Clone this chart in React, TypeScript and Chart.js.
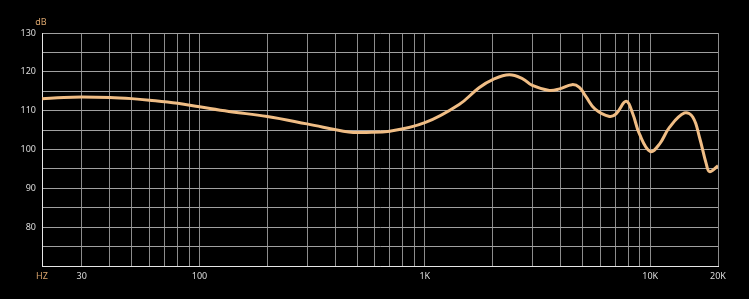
import React, { useEffect, useRef } from "react";
import { Chart, registerables } from "chart.js";

Chart.register(...registerables);

// Frequency response (Hz) and level (dB)
const freqs = [20, 25, 30, 40, 50, 60, 80, 100, 135, 200, 300, 460, 550, 700, 1000, 1420, 1740, 2000, 2370, 2720, 3000, 3570, 3960, 4500, 4850, 5190, 5700, 6600, 7060, 7820, 8370, 8960, 10000, 11000, 12180, 14200, 15470, 16560, 17740, 18350, 20000];
const levels = [113.1, 113.4, 113.5, 113.4, 113.1, 112.7, 111.9, 111.0, 109.8, 108.5, 106.6, 104.5, 104.4, 104.7, 106.9, 111.6, 115.9, 118.0, 119.25, 118.2, 116.5, 115.2, 115.6, 116.7, 116.0, 113.6, 110.4, 108.5, 109.2, 112.4, 109.2, 104.0, 99.5, 101.4, 105.7, 109.4, 108.3, 103.1, 96.3, 94.3, 95.8];

const xGridValues = [20, 30, 40, 50, 60, 70, 80, 90, 100, 200, 300, 400, 500, 600, 700, 800, 900, 1000, 2000, 3000, 4000, 5000, 6000, 7000, 8000, 9000, 10000, 20000];
const xLabelValues = [20, 30, 100, 1000, 10000, 20000];
const xLabelTexts = ["HZ", "30", "100", "1K", "10K", "20K"];
const yLabelValues = [80, 90, 100, 110, 120, 130];

const ORANGE = "#d9a46c";
const CURVE = "#f0bd85";
const TEXT = "#dcdcdc";
const FONT = "'Noto Sans', sans-serif";

export default function App() {
  const ref = useRef<HTMLCanvasElement | null>(null);

  useEffect(() => {
    document.body.style.margin = "0";
    document.body.style.background = "#000";
    const canvas = ref.current;
    if (!canvas) return;

    const titlePlugin = {
      id: "dbTitle",
      afterDraw(chart: any) {
        const ctx = chart.ctx;
        ctx.save();
        ctx.fillStyle = ORANGE;
        ctx.font = `9px ${FONT}`;
        ctx.textAlign = "center";
        ctx.textBaseline = "middle";
        ctx.fillText("dB", 41, 22);
        ctx.restore();
      },
    };

    const chart = new Chart(canvas, {
      type: "line",
      data: {
        datasets: [
          {
            data: freqs.map((f, i) => ({ x: f, y: levels[i] })),
            borderColor: CURVE,
            borderWidth: 3,
            pointRadius: 0,
            fill: false,
            tension: 0.4,
          },
        ],
      },
      options: {
        responsive: false,
        animation: false,
        layout: { padding: { top: 33, right: 31, left: 0, bottom: 0 } },
        plugins: { legend: { display: false }, tooltip: { enabled: false } },
        scales: {
          x: {
            type: "logarithmic",
            min: 20,
            max: 20000,
            afterBuildTicks: (s: any) => {
              s.ticks = xGridValues.map((v) => ({ value: v }));
            },
            afterFit: (s: any) => {
              s.height = 33;
            },
            ticks: {
              autoSkip: false,
              maxRotation: 0,
              padding: 5,
              font: { size: 9, family: FONT },
              color: (ctx: any) => (ctx.tick && ctx.tick.value === 20 ? ORANGE : TEXT),
              callback: (v: any) => {
                const i = xLabelValues.indexOf(Number(v));
                return i >= 0 ? xLabelTexts[i] : "";
              },
            },
            grid: { color: "#8c8c8c", lineWidth: 1, drawTicks: false },
            border: { color: "#e6e6e6", width: 1 },
          },
          y: {
            min: 70,
            max: 130,
            afterFit: (s: any) => {
              s.width = 42;
            },
            ticks: {
              stepSize: 2.5,
              padding: 6,
              font: { size: 9, family: FONT },
              color: TEXT,
              callback: (v: any) => (yLabelValues.indexOf(Number(v)) >= 0 ? String(v) : ""),
            },
            grid: { color: "#a0a0a0", lineWidth: 1, drawTicks: false },
            border: { color: "#e6e6e6", width: 1 },
          },
        },
      },
      plugins: [titlePlugin],
    } as any);

    return () => chart.destroy();
  }, []);

  return (
    <div style={{ width: 749, height: 299, background: "#000" }}>
      <canvas ref={ref} width={749} height={299} style={{ display: "block" }} />
    </div>
  );
}
